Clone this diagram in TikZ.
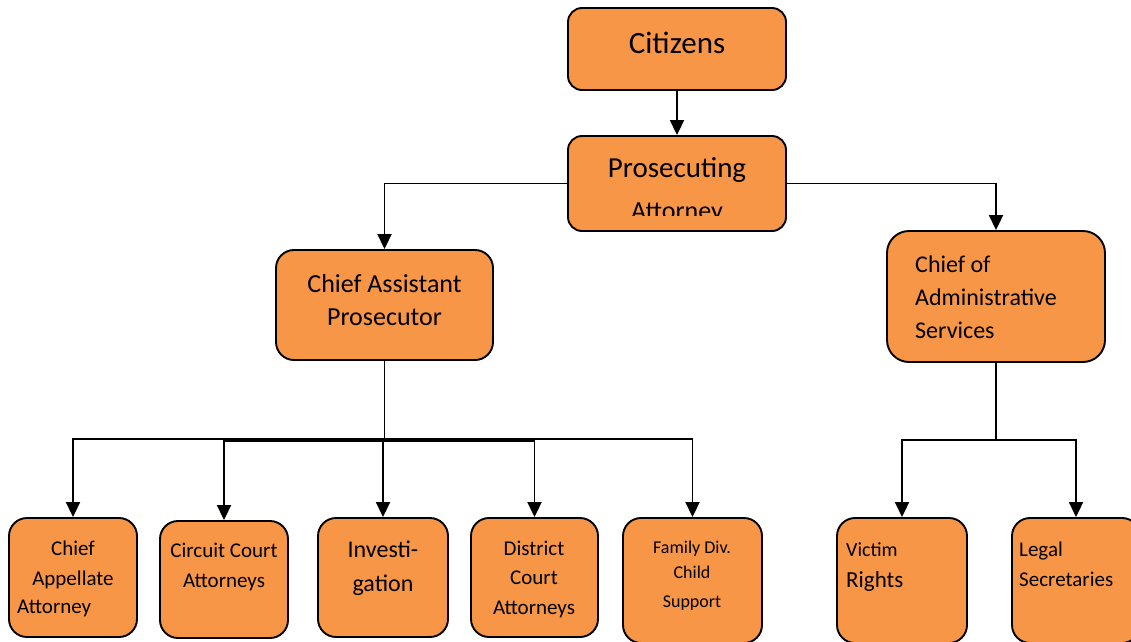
\documentclass[tikz,border=0pt]{standalone}
\usepackage{fontspec}
\setmainfont{Carlito}
\usetikzlibrary{arrows.meta}
\definecolor{boxorange}{HTML}{F79646}
\begin{document}
\begin{tikzpicture}[x=1pt,y=-1pt,
  box/.style={draw, line width=1.9pt, fill=boxorange, rounded corners=18pt, inner sep=0pt},
  conn/.style={line width=1.9pt},
  arr/.style={conn, -{Triangle[length=15pt,width=14pt]}},
  txt/.style={inner sep=0pt, anchor=base},
  ltxt/.style={inner sep=0pt, anchor=base west},
  ]
\useasboundingbox (0,0) rectangle (1131,641);
% boxes
\node[box, rounded corners=14pt, minimum width=218pt, minimum height=82pt] (cit) at (677,49) {};
\node[box, rounded corners=14pt, minimum width=218pt, minimum height=95pt] (pros) at (677,183.5) {};
\node[box, minimum width=217pt, minimum height=110pt] (cap) at (384.5,305) {};
\node[box, rounded corners=22pt, minimum width=218pt, minimum height=131pt] (cas) at (996,296.5) {};
\node[box, minimum width=128pt, minimum height=119pt] (ca) at (73,577.5) {};
\node[box, minimum width=128pt, minimum height=117pt] (cc) at (224,579.5) {};
\node[box, minimum width=130pt, minimum height=119pt] (inv) at (383,577.5) {};
\node[box, minimum width=127pt, minimum height=119pt] (dc) at (534.5,577.5) {};
\node[box, minimum width=139pt, minimum height=125pt] (fam) at (692.5,580.5) {};
\node[box, minimum width=130pt, minimum height=125pt] (vic) at (902,580.5) {};
\node[box, minimum width=128pt, minimum height=125pt] (leg) at (1076,580.5) {};

% texts (multi-line nodes sit on the baseline of their last line)
\node[txt, font=\fontsize{31}{31}\selectfont] (cit-t) at (677,53) {Citizens};
\node[txt, font=\fontsize{29}{29}\selectfont] (pros-t) at (677,177) {Prosecuting};
\begin{scope}
\clip (568,136) rectangle (786,215);
\node[txt, font=\fontsize{26}{26}\selectfont] (pros-t2) at (677,219) {Attorney};
\end{scope}
\node[txt, font=\fontsize{26}{33}\selectfont, align=center] (cap-t) at (384.5,325) {Chief Assistant\\Prosecutor};
\node[ltxt, font=\fontsize{24}{33}\selectfont, align=left] (cas-t) at (915,338) {Chief of\\Administrative\\Services};
\node[txt, font=\fontsize{21}{30}\selectfont, align=center] (ca-t) at (73,585) {Chief\\Appellate};
\node[ltxt, font=\fontsize{21}{21}\selectfont] (ca-t2) at (17,613) {Attorney};
\node[txt, font=\fontsize{21}{30}\selectfont, align=center] (cc-t) at (224,587) {Circuit Court\\Attorneys};
\node[txt, font=\fontsize{24}{34}\selectfont, align=center] (inv-t) at (383,591) {Investi-\\gation};
\node[txt, font=\fontsize{21}{29.5}\selectfont, align=center] (dc-t) at (534,614) {District\\Court\\Attorneys};
\node[txt, font=\fontsize{18}{25}\selectfont] (fam-t1) at (692,553) {Family Div.};
\node[txt, font=\fontsize{18}{25}\selectfont] (fam-t2) at (692,578) {Child};
\node[txt, font=\fontsize{18}{25}\selectfont] (fam-t3) at (692,607) {Support};
\node[ltxt, font=\fontsize{20}{20}\selectfont] (vic-t1) at (846,556) {Victim};
\node[ltxt, font=\fontsize{23}{23}\selectfont] (vic-t2) at (846,587) {Rights};
\node[ltxt, font=\fontsize{21}{30}\selectfont, align=left] (leg-t) at (1019,586) {Legal\\Secretaries};

% connectors
\draw[arr] (cit) -- (pros);
\draw[arr] (pros.west) -| (cap.north);
\draw[arr] (pros.east) -| (cas.north);
\coordinate (capj) at (384.5,439);
\coordinate (capk) at (384.5,441);
\coordinate (casj) at (996,440);
\draw[conn] (cap.south) -- (capk);
\foreach \n in {ca,inv,fam}
  \draw[arr] (capj) -| (\n.north);
\foreach \n in {cc,dc}
  \draw[arr] (capk) -| (\n.north);
\draw[conn] (cas.south) -- (casj);
\foreach \n in {vic,leg}
  \draw[arr] (casj) -| (\n.north);
\end{tikzpicture}
\end{document}
